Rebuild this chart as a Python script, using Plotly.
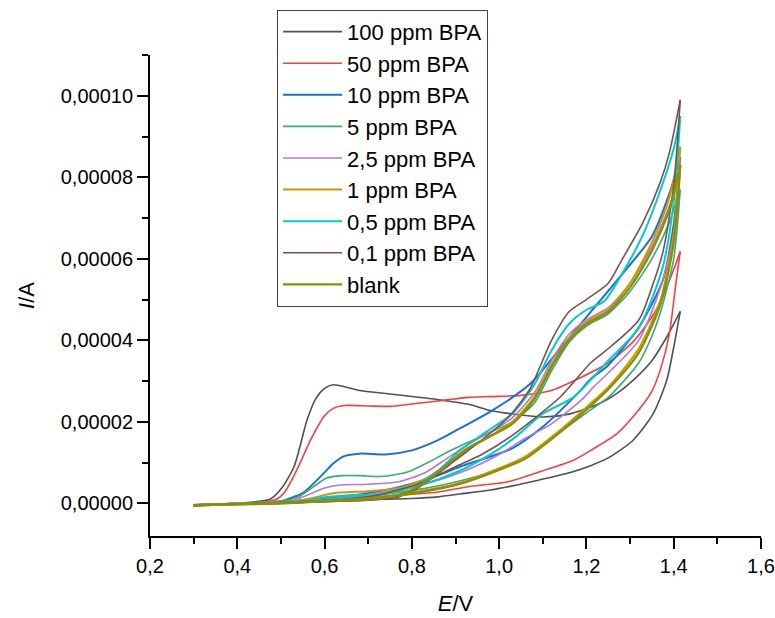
import plotly.graph_objects as go

# ---- data (E in V, I in A), forward (anodic) and reverse scans ----
names = ["100 ppm BPA", "50 ppm BPA", "10 ppm BPA", "5 ppm BPA", "2,5 ppm BPA",
         "1 ppm BPA", "0,5 ppm BPA", "0,1 ppm BPA", "blank"]
colors = ["#515151", "#F14040", "#1A6FDF", "#37AD6B", "#B177DE",
          "#CC9900", "#00CBCC", "#7D4E4E", "#8E8E00"]
widths = [1.6, 1.6, 2.0, 1.6, 1.6, 2.0, 2.0, 1.6, 2.4]

e_fwd_100 = [0.30, 0.40, 0.45, 0.475, 0.50, 0.53, 0.56, 0.58, 0.60, 0.62, 0.65, 0.68, 0.73, 0.81, 0.87, 0.93, 0.98, 1.04, 1.10, 1.16, 1.23, 1.27, 1.31, 1.35, 1.385, 1.415]
i_fwd_100 = [-0.04e-5, 0.0, 0.05e-5, 0.1e-5, 0.35e-5, 0.9e-5, 2.05e-5, 2.57e-5, 2.82e-5, 2.91e-5, 2.85e-5, 2.77e-5, 2.71e-5, 2.61e-5, 2.53e-5, 2.43e-5, 2.28e-5, 2.18e-5, 2.12e-5, 2.19e-5, 2.45e-5, 2.7e-5, 3.05e-5, 3.5e-5, 4.1e-5, 4.71e-5]
e_rev_100 = [1.415, 1.40, 1.384, 1.353, 1.307, 1.254, 1.208, 1.15, 1.09, 1.03, 0.98, 0.91, 0.86, 0.80, 0.73, 0.65, 0.55, 0.45, 0.35, 0.30]
i_rev_100 = [4.71e-5, 3.83e-5, 3.02e-5, 2.2e-5, 1.55e-5, 1.14e-5, 0.92e-5, 0.72e-5, 0.57e-5, 0.43e-5, 0.33e-5, 0.23e-5, 0.16e-5, 0.12e-5, 0.1e-5, 0.06e-5, 0.02e-5, 0.0, -0.03e-5, -0.05e-5]

e_fwd_50 = [0.30, 0.40, 0.47, 0.49, 0.51, 0.54, 0.57, 0.60, 0.62, 0.645, 0.70, 0.75, 0.81, 0.88, 0.93, 0.98, 1.05, 1.12, 1.18, 1.25, 1.31, 1.36, 1.395, 1.415]
i_fwd_50 = [-0.04e-5, 0.0, 0.05e-5, 0.1e-5, 0.3e-5, 0.9e-5, 1.6e-5, 2.15e-5, 2.33e-5, 2.4e-5, 2.39e-5, 2.38e-5, 2.45e-5, 2.54e-5, 2.6e-5, 2.62e-5, 2.65e-5, 2.77e-5, 3.05e-5, 3.45e-5, 4.0e-5, 4.75e-5, 5.6e-5, 6.18e-5]
e_rev_50 = [1.415, 1.405, 1.39, 1.37, 1.35, 1.32, 1.27, 1.21, 1.17, 1.10, 1.02, 0.93, 0.86, 0.77, 0.65, 0.55, 0.45, 0.35, 0.30]
i_rev_50 = [6.18e-5, 5.4e-5, 4.16e-5, 3.3e-5, 2.75e-5, 2.3e-5, 1.71e-5, 1.3e-5, 1.06e-5, 0.8e-5, 0.53e-5, 0.41e-5, 0.28e-5, 0.2e-5, 0.1e-5, 0.05e-5, 0.01e-5, -0.03e-5, -0.05e-5]

e_fwd_10 = [0.30, 0.40, 0.50, 0.52, 0.55, 0.59, 0.62, 0.645, 0.68, 0.74, 0.80, 0.86, 0.91, 0.98, 1.07, 1.14, 1.21, 1.28, 1.35, 1.39, 1.415]
i_fwd_10 = [-0.04e-5, 0.0, 0.05e-5, 0.12e-5, 0.25e-5, 0.65e-5, 0.98e-5, 1.16e-5, 1.22e-5, 1.2e-5, 1.3e-5, 1.55e-5, 1.84e-5, 2.25e-5, 2.92e-5, 3.8e-5, 4.7e-5, 5.6e-5, 6.55e-5, 7.6e-5, 8.5e-5]
e_rev_10 = [1.415, 1.40, 1.375, 1.32, 1.25, 1.21, 1.18, 1.10, 1.03, 0.91, 0.85, 0.75, 0.65, 0.55, 0.45, 0.30]
i_rev_10 = [8.5e-5, 6.85e-5, 5.47e-5, 4.32e-5, 3.39e-5, 3.05e-5, 2.7e-5, 1.88e-5, 1.35e-5, 0.9e-5, 0.65e-5, 0.35e-5, 0.18e-5, 0.08e-5, 0.02e-5, -0.05e-5]

e_fwd_5 = [0.30, 0.40, 0.50, 0.54, 0.575, 0.605, 0.64, 0.68, 0.73, 0.79, 0.84, 0.88, 0.93, 0.98, 1.03, 1.08, 1.12, 1.16, 1.20, 1.25, 1.30, 1.35, 1.39, 1.415]
i_fwd_5 = [-0.04e-5, 0.0, 0.05e-5, 0.16e-5, 0.41e-5, 0.62e-5, 0.68e-5, 0.68e-5, 0.66e-5, 0.77e-5, 1.02e-5, 1.25e-5, 1.5e-5, 1.75e-5, 2.0e-5, 2.45e-5, 3.25e-5, 3.95e-5, 4.35e-5, 4.65e-5, 5.2e-5, 6.0e-5, 6.9e-5, 7.7e-5]
e_rev_5 = [1.415, 1.40, 1.37, 1.35, 1.32, 1.25, 1.21, 1.14, 1.06, 0.99, 0.91, 0.82, 0.72, 0.62, 0.50, 0.30]
i_rev_5 = [7.7e-5, 6.0e-5, 4.7e-5, 4.1e-5, 3.45e-5, 2.6e-5, 2.3e-5, 1.75e-5, 1.1e-5, 0.8e-5, 0.55e-5, 0.35e-5, 0.2e-5, 0.1e-5, 0.03e-5, -0.05e-5]

e_fwd_25 = [0.30, 0.40, 0.52, 0.56, 0.60, 0.635, 0.70, 0.77, 0.83, 0.88, 0.93, 0.98, 1.03, 1.08, 1.12, 1.16, 1.20, 1.25, 1.30, 1.35, 1.39, 1.415]
i_fwd_25 = [-0.04e-5, 0.0, 0.05e-5, 0.2e-5, 0.38e-5, 0.45e-5, 0.47e-5, 0.53e-5, 0.75e-5, 1.1e-5, 1.45e-5, 1.75e-5, 2.1e-5, 2.7e-5, 3.5e-5, 4.15e-5, 4.5e-5, 4.8e-5, 5.4e-5, 6.3e-5, 7.3e-5, 8.2e-5]
e_rev_25 = [1.415, 1.40, 1.37, 1.32, 1.25, 1.216, 1.19, 1.12, 1.06, 1.00, 0.91, 0.82, 0.72, 0.62, 0.50, 0.30]
i_rev_25 = [8.2e-5, 6.6e-5, 5.3e-5, 4.0e-5, 3.2e-5, 2.85e-5, 2.55e-5, 1.95e-5, 1.6e-5, 1.2e-5, 0.75e-5, 0.45e-5, 0.25e-5, 0.12e-5, 0.03e-5, -0.05e-5]

e_fwd_1 = [0.30, 0.40, 0.53, 0.58, 0.62, 0.70, 0.77, 0.83, 0.88, 0.93, 0.98, 1.03, 1.08, 1.12, 1.16, 1.20, 1.25, 1.30, 1.35, 1.39, 1.415]
i_fwd_1 = [-0.04e-5, 0.0, 0.05e-5, 0.15e-5, 0.25e-5, 0.3e-5, 0.37e-5, 0.6e-5, 0.95e-5, 1.35e-5, 1.65e-5, 2.0e-5, 2.6e-5, 3.4e-5, 4.05e-5, 4.45e-5, 4.75e-5, 5.4e-5, 6.4e-5, 7.5e-5, 8.75e-5]
e_rev_1 = [1.415, 1.40, 1.37, 1.32, 1.25, 1.20, 1.14, 1.06, 0.99, 0.91, 0.82, 0.72, 0.62, 0.50, 0.30]
i_rev_1 = [8.75e-5, 6.6e-5, 5.0e-5, 3.8e-5, 2.85e-5, 2.36e-5, 1.8e-5, 1.15e-5, 0.82e-5, 0.5e-5, 0.3e-5, 0.15e-5, 0.08e-5, 0.02e-5, -0.05e-5]

e_fwd_05 = [0.30, 0.45, 0.55, 0.60, 0.66, 0.73, 0.80, 0.86, 0.91, 0.97, 1.03, 1.08, 1.12, 1.16, 1.20, 1.24, 1.28, 1.33, 1.37, 1.40, 1.415]
i_fwd_05 = [-0.04e-5, 0.0, 0.05e-5, 0.15e-5, 0.2e-5, 0.22e-5, 0.4e-5, 0.8e-5, 1.3e-5, 1.75e-5, 2.2e-5, 2.9e-5, 3.75e-5, 4.4e-5, 4.75e-5, 4.95e-5, 5.6e-5, 6.6e-5, 7.7e-5, 8.7e-5, 9.5e-5]
e_rev_05 = [1.415, 1.40, 1.375, 1.32, 1.25, 1.216, 1.17, 1.10, 1.04, 0.98, 0.91, 0.82, 0.72, 0.62, 0.50, 0.30]
i_rev_05 = [9.5e-5, 7.4e-5, 5.8e-5, 4.3e-5, 3.5e-5, 3.1e-5, 2.6e-5, 2.2e-5, 1.65e-5, 1.2e-5, 0.8e-5, 0.45e-5, 0.22e-5, 0.1e-5, 0.03e-5, -0.05e-5]

e_fwd_01 = [0.30, 0.50, 0.60, 0.70, 0.77, 0.81, 0.85, 0.90, 0.96, 1.02, 1.07, 1.12, 1.16, 1.20, 1.25, 1.28, 1.33, 1.37, 1.39, 1.415]
i_fwd_01 = [-0.04e-5, 0.0, 0.05e-5, 0.08e-5, 0.16e-5, 0.35e-5, 0.65e-5, 1.06e-5, 1.55e-5, 2.1e-5, 2.8e-5, 4.0e-5, 4.7e-5, 5.0e-5, 5.4e-5, 5.95e-5, 6.9e-5, 7.9e-5, 8.6e-5, 9.9e-5]
e_rev_01 = [1.415, 1.40, 1.376, 1.35, 1.32, 1.254, 1.21, 1.14, 1.025, 0.96, 0.90, 0.82, 0.72, 0.62, 0.50, 0.30]
i_rev_01 = [9.9e-5, 7.8e-5, 6.2e-5, 5.3e-5, 4.5e-5, 3.83e-5, 3.45e-5, 2.61e-5, 1.63e-5, 1.2e-5, 0.9e-5, 0.5e-5, 0.2e-5, 0.08e-5, 0.02e-5, -0.05e-5]

e_fwd_blank = [0.30, 0.50, 0.60, 0.70, 0.77, 0.82, 0.87, 0.92, 0.98, 1.03, 1.08, 1.12, 1.16, 1.20, 1.25, 1.30, 1.35, 1.39, 1.415]
i_fwd_blank = [-0.04e-5, 0.0, 0.05e-5, 0.1e-5, 0.2e-5, 0.45e-5, 0.85e-5, 1.3e-5, 1.65e-5, 1.95e-5, 2.55e-5, 3.35e-5, 4.0e-5, 4.4e-5, 4.7e-5, 5.3e-5, 6.2e-5, 7.2e-5, 8.3e-5]
e_rev_blank = [1.415, 1.40, 1.37, 1.32, 1.25, 1.20, 1.14, 1.06, 0.99, 0.91, 0.82, 0.72, 0.62, 0.50, 0.30]
i_rev_blank = [8.3e-5, 6.4e-5, 4.9e-5, 3.7e-5, 2.8e-5, 2.3e-5, 1.75e-5, 1.1e-5, 0.78e-5, 0.48e-5, 0.28e-5, 0.14e-5, 0.07e-5, 0.02e-5, -0.05e-5]

forward_e = [e_fwd_100, e_fwd_50, e_fwd_10, e_fwd_5, e_fwd_25, e_fwd_1, e_fwd_05, e_fwd_01, e_fwd_blank]
forward_i = [i_fwd_100, i_fwd_50, i_fwd_10, i_fwd_5, i_fwd_25, i_fwd_1, i_fwd_05, i_fwd_01, i_fwd_blank]
reverse_e = [e_rev_100, e_rev_50, e_rev_10, e_rev_5, e_rev_25, e_rev_1, e_rev_05, e_rev_01, e_rev_blank]
reverse_i = [i_rev_100, i_rev_50, i_rev_10, i_rev_5, i_rev_25, i_rev_1, i_rev_05, i_rev_01, i_rev_blank]

x_ticks = [0.2, 0.4, 0.6, 0.8, 1.0, 1.2, 1.4, 1.6]
y_ticks = [0.0, 0.00002, 0.00004, 0.00006, 0.00008, 0.00010]

FONT = "Liberation Sans, Arial, sans-serif"

fig = go.Figure()
for k in range(len(names)):
    fig.add_trace(go.Scatter(x=forward_e[k], y=forward_i[k], mode="lines", name=names[k],
                             legendgroup=names[k], showlegend=True,
                             line=dict(color=colors[k], width=widths[k], shape="spline", smoothing=0.7)))
    fig.add_trace(go.Scatter(x=reverse_e[k], y=reverse_i[k], mode="lines", name=names[k],
                             legendgroup=names[k], showlegend=False,
                             line=dict(color=colors[k], width=widths[k], shape="spline", smoothing=0.7)))

fig.update_layout(
    width=775, height=618,
    margin=dict(l=150, r=14, t=55, b=82, autoexpand=False),
    paper_bgcolor="white", plot_bgcolor="white",
    separators=", ",
    font=dict(family=FONT, color="black", size=20),
    legend=dict(x=0.208, y=1.094, xanchor="left", yanchor="top",
                bordercolor="#404040", borderwidth=1, bgcolor="white",
                font=dict(family=FONT, size=22, color="black"),
                itemwidth=59, tracegroupgap=0),
    xaxis=dict(range=[0.2, 1.6], tickvals=x_ticks, tickformat=".1f",
               showgrid=False, zeroline=False, showline=True, linecolor="black", linewidth=2,
               ticks="outside", ticklen=11, tickwidth=2, tickcolor="black",
               minor=dict(ticks="outside", ticklen=6, tickwidth=1.5, tickcolor="black", dtick=0.1, showgrid=False),
               tickfont=dict(size=20, family=FONT),
               title=dict(text="<i>E</i>/V", font=dict(size=22, family=FONT), standoff=20)),
    yaxis=dict(range=[-0.000008, 0.00011], tickvals=y_ticks, tickformat=".5f",
               showgrid=False, zeroline=False, showline=True, linecolor="black", linewidth=2,
               ticks="outside", ticklen=11, tickwidth=2, tickcolor="black",
               minor=dict(ticks="outside", ticklen=6, tickwidth=1.5, tickcolor="black", dtick=0.00001, showgrid=False),
               tickfont=dict(size=20, family=FONT),
               title=dict(text="<i>I</i>/A", font=dict(size=22, family=FONT), standoff=20)),
)

fig.write_html("out.html", config={"displayModeBar": False},
               post_script="document.body.style.margin='0';document.body.style.overflow='hidden';")
